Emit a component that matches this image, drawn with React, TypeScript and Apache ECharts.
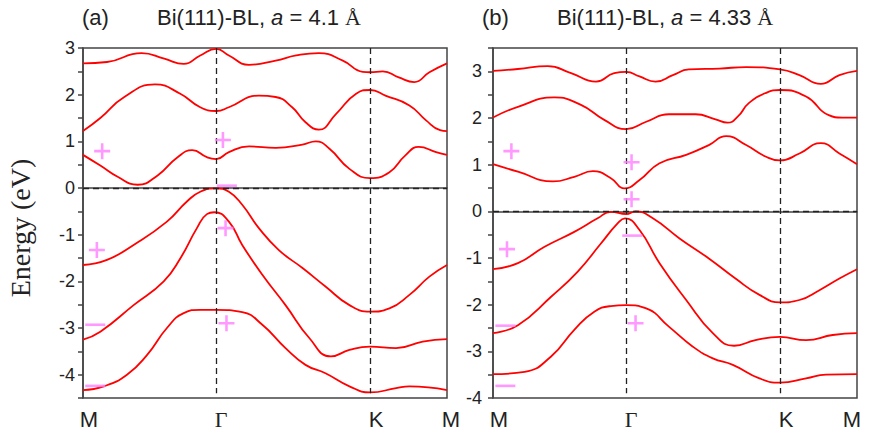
import { useEffect, useRef } from 'react';
import * as echarts from 'echarts';

// High-symmetry path M - Γ - K - M (in units of |ΓM|)
const kPoints = [0, 1, 2.1547, 2.7321];
const kLabels = ['M', 'Γ', 'K', 'M'];
const kMax = 2.7321;

// Panel (a): a = 4.1 Å
const bandA1 = [[0, 2.67], [0.18, 2.7], [0.44, 2.89], [0.61, 2.77], [0.756, 2.66], [0.88, 2.84], [1, 2.98], [1.095, 2.84], [1.246, 2.64], [1.446, 2.73], [1.6, 2.84], [1.77, 2.89], [1.95, 2.73], [2.1, 2.49], [2.1547, 2.48], [2.25, 2.5], [2.37, 2.37], [2.486, 2.27], [2.6, 2.48], [2.7321, 2.67]];
const bandA2 = [[0, 1.22], [0.13, 1.5], [0.31, 1.95], [0.54, 2.22], [0.73, 2.02], [0.88, 1.73], [1, 1.65], [1.095, 1.73], [1.32, 1.98], [1.446, 1.95], [1.57, 1.73], [1.67, 1.41], [1.77, 1.25], [1.9, 1.59], [2.05, 2.02], [2.1547, 2.1], [2.27, 1.98], [2.45, 1.77], [2.575, 1.45], [2.68, 1.24], [2.7321, 1.22]];
const bandA3 = [[0, 0.71], [0.13, 0.48], [0.26, 0.24], [0.41, 0.07], [0.56, 0.27], [0.71, 0.66], [0.82, 0.81], [0.93, 0.66], [1, 0.62], [1.095, 0.77], [1.246, 0.89], [1.446, 0.86], [1.647, 0.93], [1.747, 1.0], [1.85, 0.84], [2.0, 0.41], [2.1547, 0.21], [2.3, 0.34], [2.42, 0.7], [2.52, 0.88], [2.65, 0.77], [2.7321, 0.71]];
const bandA4 = [[0, -1.65], [0.18, -1.54], [0.38, -1.22], [0.63, -0.72], [0.78, -0.29], [0.88, -0.08], [1, -0.01], [1.095, -0.08], [1.195, -0.36], [1.32, -0.86], [1.47, -1.33], [1.65, -1.72], [1.82, -2.11], [2.0, -2.51], [2.1547, -2.65], [2.3, -2.58], [2.45, -2.29], [2.6, -1.9], [2.7321, -1.65]];
const bandA5 = [[0, -3.25], [0.13, -3.08], [0.38, -2.51], [0.606, -2.0], [0.73, -1.51], [0.855, -0.86], [0.93, -0.56], [0.985, -0.52], [1.095, -0.72], [1.195, -1.22], [1.346, -1.86], [1.52, -2.51], [1.7, -3.22], [1.86, -3.61], [2.0, -3.47], [2.1547, -3.4], [2.35, -3.43], [2.55, -3.29], [2.7321, -3.24]];
const bandA6 = [[0, -4.33], [0.157, -4.25], [0.33, -4.0], [0.48, -3.58], [0.63, -3.0], [0.756, -2.68], [0.88, -2.61], [1, -2.61], [1.195, -2.66], [1.346, -2.93], [1.52, -3.43], [1.67, -3.79], [1.82, -3.97], [2.0, -4.25], [2.1547, -4.38], [2.35, -4.29], [2.45, -4.25], [2.7321, -4.33]];
const parityPlusA = [[0.144, 0.79], [1.05, 1.03], [1.07, -0.86], [0.104, -1.33], [1.077, -2.9]];
const parityMinusA = [[1.08, 0.05], [0.092, -2.93], [0.092, -4.24]];

// Panel (b): a = 4.33 Å
const bandB1 = [[0, 3.01], [0.187, 3.05], [0.41, 3.11], [0.586, 2.96], [0.773, 2.78], [0.91, 2.96], [1, 2.99], [1.1, 2.89], [1.22, 2.78], [1.35, 2.92], [1.47, 3.04], [1.7, 3.06], [1.9, 3.09], [2.1547, 3.04], [2.3, 2.92], [2.46, 2.73], [2.6, 2.92], [2.7321, 3.01]];
const bandB2 = [[0, 2.01], [0.187, 2.24], [0.46, 2.44], [0.66, 2.28], [0.835, 1.96], [1, 1.76], [1.15, 1.92], [1.32, 2.08], [1.52, 2.08], [1.67, 1.97], [1.76, 1.9], [1.84, 2.04], [1.92, 2.32], [2.05, 2.54], [2.1547, 2.6], [2.35, 2.46], [2.52, 2.06], [2.62, 2.01], [2.7321, 2.01]];
const bandB3 = [[0, 1.01], [0.187, 0.85], [0.45, 0.64], [0.61, 0.74], [0.75, 0.86], [0.885, 0.71], [0.985, 0.49], [1.1, 0.67], [1.25, 1.03], [1.45, 1.21], [1.62, 1.42], [1.75, 1.61], [1.9, 1.42], [2.05, 1.17], [2.1547, 1.09], [2.3, 1.24], [2.46, 1.46], [2.6, 1.24], [2.7321, 1.01]];
const bandB4 = [[0, -1.24], [0.187, -1.11], [0.387, -0.76], [0.61, -0.44], [0.785, -0.15], [0.885, -0.01], [1, -0.06], [1.07, 0], [1.2, -0.15], [1.4, -0.58], [1.62, -1.01], [1.82, -1.44], [2.0, -1.79], [2.1547, -1.95], [2.3, -1.9], [2.45, -1.69], [2.6, -1.44], [2.7321, -1.24]];
const bandB5 = [[0, -2.61], [0.187, -2.44], [0.436, -1.83], [0.636, -1.29], [0.81, -0.69], [0.935, -0.26], [0.99, -0.15], [1.1, -0.4], [1.25, -1.11], [1.45, -1.9], [1.65, -2.61], [1.81, -2.88], [1.97, -2.76], [2.1547, -2.69], [2.35, -2.76], [2.55, -2.65], [2.7321, -2.61]];
const bandB6 = [[0, -3.49], [0.237, -3.44], [0.436, -3.11], [0.61, -2.54], [0.76, -2.15], [0.885, -2.03], [1, -2.01], [1.15, -2.08], [1.32, -2.47], [1.5, -2.9], [1.65, -3.15], [1.8, -3.29], [2.0, -3.58], [2.1547, -3.67], [2.35, -3.58], [2.5, -3.5], [2.7321, -3.49]];
const parityPlusB = [[0.138, 1.29], [1.04, 1.05], [1.04, 0.26], [0.105, -0.81], [1.07, -2.4]];
const parityMinusB = [[1.045, -0.52], [0.093, -2.45], [0.093, -3.74]];

const yRangeA = [-4.5, 3];
const yRangeB = [-4, 3.5];

const SANS = 'Liberation Sans, Arial, sans-serif';
const SERIF = 'Liberation Serif, Times New Roman, serif';
const AXIS_COLOR = '#444';
const PARITY_COLOR = '#ff7fff';
const PLUS_PATH = 'path://M4.2,0H5.8V4.2H10V5.8H5.8V10H4.2V5.8H0V4.2H4.2Z';

function kIndex(v: number) {
  let best = 0;
  kPoints.forEach((p, i) => {
    if (Math.abs(p - v) < Math.abs(kPoints[best] - v)) best = i;
  });
  return best;
}

function xAxisFor(gridIndex: number, lastTag: string) {
  return {
    gridIndex,
    type: 'value',
    min: 0,
    max: kMax,
    axisLine: { show: true, lineStyle: { color: AXIS_COLOR, width: 1.5 } },
    axisTick: { show: false },
    splitLine: { show: false },
    axisLabel: {
      customValues: kPoints,
      margin: 10,
      fontSize: 22,
      color: '#222',
      fontFamily: SANS,
      formatter: (v: number) => {
        const i = kIndex(v);
        if (i === 1) return '{g|' + kLabels[i] + '}';
        if (i === kPoints.length - 1) return '{' + lastTag + '|' + kLabels[i] + '}';
        return '{s|' + kLabels[i] + '}';
      },
      rich: {
        s: { fontFamily: SANS, fontSize: 22, color: '#222', padding: [0, 0, 0, 12] },
        g: { fontFamily: SERIF, fontSize: 22, color: '#222', padding: [0, 0, 0, 10] },
        r: { fontFamily: SANS, fontSize: 22, color: '#222', padding: [0, 0, 0, 8] },
        e: { fontFamily: SANS, fontSize: 22, color: '#222', padding: [0, 10, 0, 0] },
      },
    },
  };
}

function yAxisFor(gridIndex: number, range: number[], margin: number, withName: boolean) {
  return {
    gridIndex,
    type: 'value',
    min: range[0],
    max: range[1],
    interval: 0.5,
    axisLine: { show: true, lineStyle: { color: AXIS_COLOR, width: 1.5 } },
    axisTick: { show: true, inside: false, length: 5, lineStyle: { color: AXIS_COLOR, width: 1.5 } },
    splitLine: { show: false },
    axisLabel: {
      margin,
      fontSize: 18,
      color: '#222',
      fontFamily: SANS,
      formatter: (v: number) => (Math.abs(v - Math.round(v)) < 1e-6 ? String(Math.round(v)) : ''),
    },
    ...(withName
      ? {
          name: 'Energy (eV)',
          nameLocation: 'middle',
          nameRotate: 90,
          nameGap: 49,
          nameTextStyle: { fontFamily: SERIF, fontSize: 28, color: '#222', padding: [0, 10, 0, 0] },
        }
      : {}),
  };
}

function bandSeries(data: number[][], idx: number, extra: any = {}) {
  return {
    type: 'line',
    xAxisIndex: idx,
    yAxisIndex: idx,
    data,
    smooth: 0.5,
    symbol: 'none',
    lineStyle: { color: '#ff0000', width: 1.8 },
    z: 3,
    ...extra,
  };
}

function guides(range: number[]) {
  const top = range[1];
  const bottom = range[0] + 0.1;
  return {
    silent: true,
    symbol: 'none',
    label: { show: false },
    lineStyle: { color: '#222', type: [6, 4], width: 1.3 },
    data: [
      [{ coord: [kPoints[1], top] }, { coord: [kPoints[1], bottom] }],
      [{ coord: [kPoints[2], top] }, { coord: [kPoints[2], bottom] }],
      [{ coord: [0, 0] }, { coord: [kMax, 0] }],
    ],
  };
}

function paritySeries(plus: number[][], minus: number[][], idx: number) {
  return [
    {
      type: 'scatter',
      xAxisIndex: idx,
      yAxisIndex: idx,
      data: plus,
      symbol: PLUS_PATH,
      symbolSize: 16,
      itemStyle: { color: PARITY_COLOR },
      z: 5,
    },
    {
      type: 'scatter',
      xAxisIndex: idx,
      yAxisIndex: idx,
      data: minus,
      symbol: 'rect',
      symbolSize: [20, 2.6],
      itemStyle: { color: PARITY_COLOR },
      z: 5,
    },
  ];
}

function panelTitle(left: number, tag: string, lattice: string) {
  return [
    {
      left,
      top: 6,
      padding: 0,
      text: tag,
      textStyle: { fontFamily: SANS, fontSize: 22, fontWeight: 'normal', color: '#222' },
    },
    {
      left: left + 75,
      top: 6,
      padding: 0,
      text: '{n|Bi(111)-BL, }{i|a}{n| = ' + lattice + ' }{s|Å}',
      textStyle: {
        fontFamily: SANS,
        fontSize: 22,
        fontWeight: 'normal',
        color: '#222',
        rich: {
          n: { fontFamily: SANS, fontSize: 22, color: '#222' },
          i: { fontFamily: SANS, fontSize: 22, fontStyle: 'italic', color: '#222' },
          s: { fontFamily: SERIF, fontSize: 22, color: '#222' },
        },
      },
    },
  ];
}

export default function App() {
  const ref = useRef<HTMLDivElement>(null);

  useEffect(() => {
    if (!ref.current) return;
    const chart = echarts.init(ref.current, undefined, { renderer: 'svg' });
    const bandsA = [bandA1, bandA2, bandA3, bandA4, bandA5, bandA6];
    const bandsB = [bandB1, bandB2, bandB3, bandB4, bandB5, bandB6];

    chart.setOption({
      animation: false,
      backgroundColor: '#ffffff',
      title: [...panelTitle(82, '(a)', '4.1'), ...panelTitle(482, '(b)', '4.33')],
      grid: [
        { left: 83, top: 48, width: 364, height: 350, show: true, borderColor: AXIS_COLOR, borderWidth: 1.5, backgroundColor: 'transparent' },
        { left: 493, top: 48, width: 364, height: 350, show: true, borderColor: AXIS_COLOR, borderWidth: 1.5, backgroundColor: 'transparent' },
      ],
      xAxis: [xAxisFor(0, 'r'), xAxisFor(1, 'e')],
      yAxis: [yAxisFor(0, yRangeA, 8, true), yAxisFor(1, yRangeB, 11, false)],
      series: [
        ...bandsA.map((b, i) => bandSeries(b, 0, i === 0 ? { markLine: guides(yRangeA) } : {})),
        ...bandsB.map((b, i) => bandSeries(b, 1, i === 0 ? { markLine: guides(yRangeB) } : {})),
        ...paritySeries(parityPlusA, parityMinusA, 0),
        ...paritySeries(parityPlusB, parityMinusB, 1),
      ],
    });

    return () => chart.dispose();
  }, []);

  return (
    <div
      ref={ref}
      style={{ position: 'fixed', left: 0, top: 0, width: 875, height: 439, background: '#fff' }}
    />
  );
}
